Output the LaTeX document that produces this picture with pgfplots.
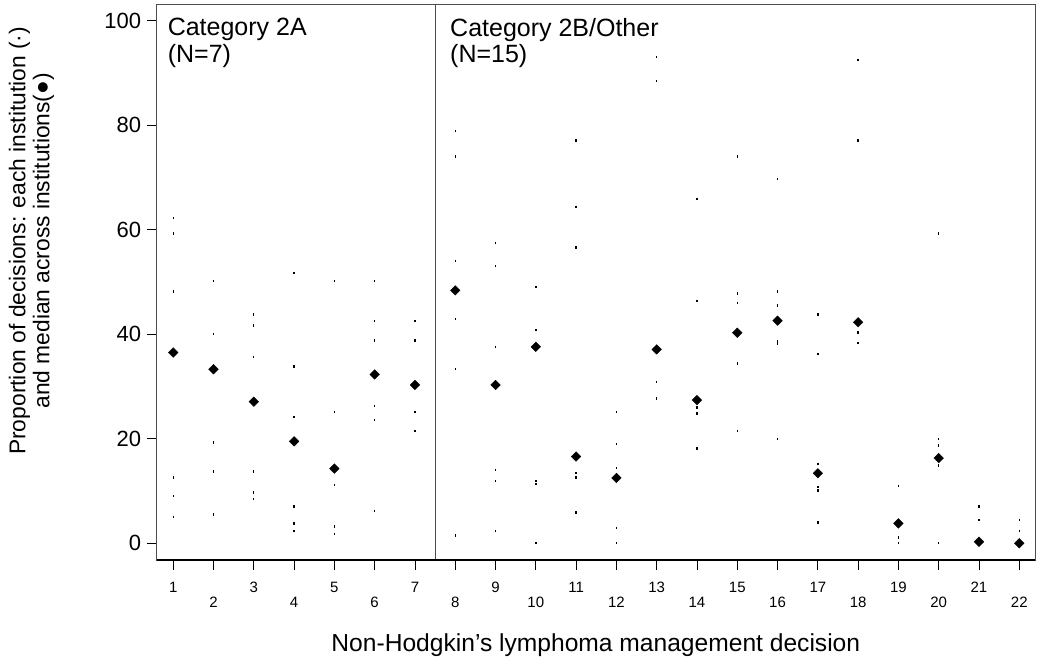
\documentclass[border=0pt]{standalone}
\usepackage{fontspec}
\setmainfont{Liberation Sans}
\usepackage{pgfplots}
\pgfplotsset{compat=1.18}
\begin{document}
\begin{tikzpicture}
\useasboundingbox (-156.7pt,-100pt) rectangle (893.3pt,560pt);
\begin{axis}[
  scale only axis, width=878.3pt, height=556pt,
  xmin=0.59, xmax=22.39, ymin=-3.2, ymax=103.2,
  axis line style={draw=black!70, line width=0.8pt},
  tick style={black, line width=0.9pt},
  tick align=outside, major tick length=10pt,
  xtick pos=bottom, ytick pos=left,
  xtick={1,3,...,21},
  extra x ticks={2,4,...,22},
  extra x tick style={tick label style={yshift=-15pt}},
  ytick={0,20,...,100},
  /pgf/number format/assume math mode=true,
  xticklabel style={font=\fontsize{15}{17}\selectfont, text height=11pt, text depth=0pt, yshift=-8pt},
  yticklabel style={font=\fontsize{22}{24}\selectfont, xshift=-2pt},
  xlabel={Non-Hodgkin's lymphoma management decision},
  xlabel style={font=\fontsize{24.6}{27}\selectfont, at={(axis description cs:0.5,0)}, anchor=base, yshift=-92pt},
  ylabel={Proportion of decisions: each institution (·)\\and median across institutions(●)},
  ylabel style={font=\fontsize{22.8}{24}\selectfont, align=center, at={(axis description cs:-0.1425,0.574)}, anchor=center, rotate=0},
  clip=false,
]
\addplot[only marks, mark=|, mark size=1.2pt, line width=1.4pt, black] coordinates {
(1,62.2)(1,59.3)(1,48.2)(1,12.6)(1,9.0)(1,5.0)
(2,50.2)(2,40.0)(2,19.3)(2,13.7)(2,5.5)
(3,43.8)(3,41.7)(3,35.6)(3,13.7)(3,9.7)(3,8.5)
(4,51.7)(4,33.8)(4,24.2)(4,7.0)(4,3.8)(4,2.35)
(5,50.2)(5,25.1)(5,11.1)(5,3.2)(5,1.8)
(6,50.2)(6,42.5)(6,38.8)(6,26.3)(6,23.6)(6,6.2)
(7,42.5)(7,38.8)(7,25.1)(7,21.5)
(8,78.9)(8,74.0)(8,54.0)(8,42.9)(8,33.3)(8,1.5)
(9,57.5)(9,53.1)(9,37.6)(9,14.0)(9,11.9)(9,2.35)
(10,49.0)(10,40.8)(10,11.9)(10,11.3)(10,0.0)
(11,77.1)(11,64.4)(11,56.6)(11,13.5)(11,12.6)(11,5.9)
(12,25.1)(12,19.0)(12,14.35)(12,2.9)(12,0.0)
(13,93.1)(13,88.5)(13,30.9)(13,27.7)
(14,65.9)(14,46.4)(14,26.0)(14,24.8)(14,18.1)
(15,74.0)(15,47.8)(15,46.0)(15,34.4)(15,21.5)
(16,69.7)(16,48.2)(16,45.5)(16,38.6)(16,38.1)(16,19.9)
(17,43.8)(17,36.2)(17,15.2)(17,10.8)(17,10.1)(17,4.0)
(18,92.5)(18,77.1)(18,40.3)(18,38.3)
(19,11.0)(19,1.1)(19,0.0)
(20,59.3)(20,19.9)(20,18.7)(20,14.9)(20,0.0)
(21,7.0)(21,4.4)
(22,4.5)(22,2.4)
};
\addplot[only marks, mark=square*, mark size=3.4pt, mark options={rotate=45}, black] coordinates {
(1,36.5)(2,33.3)(3,27.1)(4,19.5)(5,14.3)(6,32.3)(7,30.3)
(8,48.4)(9,30.3)(10,37.6)(11,16.6)(12,12.5)(13,37.1)(14,27.4)
(15,40.3)(16,42.6)(17,13.4)(18,42.3)(19,3.8)(20,16.3)(21,0.3)(22,0.0)
};
\draw[black!70, line width=0.8pt] (axis cs:7.5,-3.2) -- (axis cs:7.5,103.2);
\draw[black, line width=2pt] (rel axis cs:0,0) -- (rel axis cs:1,0);
\node[anchor=north west, inner sep=0pt, align=left, font=\fontsize{25}{26.5}\selectfont] at (axis cs:0.86,100.5) {Category 2A\\(N=7)};
\node[anchor=north west, inner sep=0pt, align=left, font=\fontsize{25}{26.5}\selectfont] at (axis cs:7.87,100.5) {Category 2B/Other\\(N=15)};
\end{axis}
\end{tikzpicture}
\end{document}
